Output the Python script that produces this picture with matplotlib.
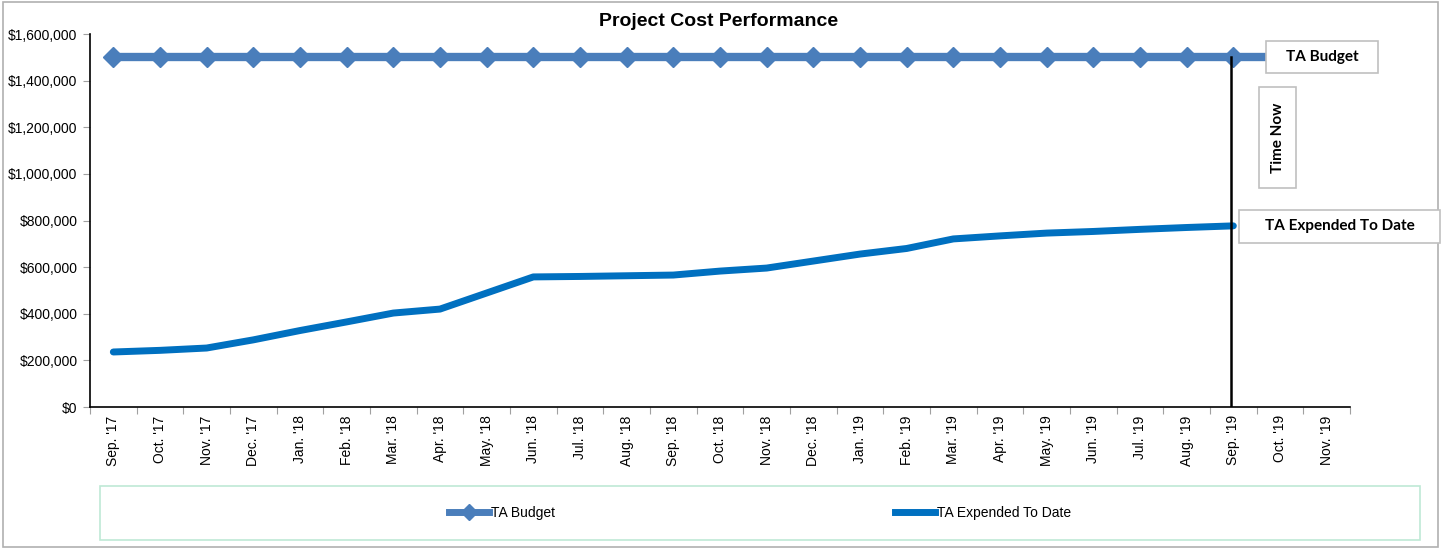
import matplotlib
matplotlib.use("Agg")
import matplotlib.pyplot as plt
from matplotlib.patches import Rectangle
from matplotlib.lines import Line2D
from matplotlib.ticker import FuncFormatter, FixedLocator

plt.rcParams['font.family'] = ['Liberation Sans', 'DejaVu Sans']

months = ["Sep. '17", "Oct. '17", "Nov. '17", "Dec. '17", "Jan. '18", "Feb. '18", "Mar. '18",
          "Apr. '18", "May. '18", "Jun. '18", "Jul. '18", "Aug. '18", "Sep. '18", "Oct. '18",
          "Nov. '18", "Dec. '18", "Jan. '19", "Feb. '19", "Mar. '19", "Apr. '19", "May. '19",
          "Jun. '19", "Jul. '19", "Aug. '19", "Sep. '19", "Oct. '19", "Nov. '19"]

ta_budget = [1500000] * 26
ta_expended = [236000, 243000, 253000, 288000, 328000, 365000, 403000, 420000, 489000,
               558000, 560000, 563000, 566000, 583000, 596000, 626000, 656000, 680000,
               721000, 734000, 746000, 753000, 762000, 770000, 777000]
time_now_index = 24

W, H = 1445, 548
fig = plt.figure(figsize=(W / 100, H / 100), dpi=100)
fig.patch.set_facecolor('white')

def fx(px):
    return px / W

def fy(py):
    return 1 - py / H

ax = fig.add_axes([fx(90), fy(407), fx(1350) - fx(90), fy(34) - fy(407)])

x_exp = list(range(len(ta_expended)))
x_bud = list(range(len(ta_budget)))

ax.plot(x_exp, ta_expended, color='#0070c0', lw=5, solid_capstyle='round',
        solid_joinstyle='round', zorder=3)
ax.plot(x_bud, ta_budget, color='#4a7ebb', lw=6, marker='D', markersize=10.5,
        markeredgecolor='#4a7ebb', markerfacecolor='#4a7ebb', zorder=3)

ax.plot([time_now_index - 0.05, time_now_index - 0.05], [0, ta_budget[0]], color='black',
        lw=1.8, zorder=4)

ax.set_xlim(-0.5, len(months) - 0.5)
ax.set_ylim(0, 1600000)
ax.set_yticks(range(0, 1600001, 200000))
ax.yaxis.set_major_formatter(FuncFormatter(lambda v, p: '${:,.0f}'.format(v)))
ax.set_xticks(range(len(months)))
ax.set_xticklabels(months, rotation=90, fontsize=10)
ax.xaxis.set_minor_locator(FixedLocator([i - 0.5 for i in range(len(months) + 1)]))
ax.tick_params(axis='x', which='major', length=0, pad=6)
ax.tick_params(axis='x', which='minor', length=5, color='#a0a0a0', width=0.8)
ax.tick_params(axis='y', length=5, color='#a0a0a0', width=0.8, labelsize=10, pad=4)
for s in ['top', 'right']:
    ax.spines[s].set_visible(False)
ax.spines['left'].set_linewidth(1.2)
ax.spines['bottom'].set_linewidth(1.2)

fig.text(fx(719), fy(21), 'Project Cost Performance', ha='center', va='center',
         fontsize=14, fontweight='bold')

# outer chart border
fig.patches.append(Rectangle((fx(3), fy(547)), fx(1438) - fx(3), fy(2) - fy(547),
                             transform=fig.transFigure, fill=False, edgecolor='#b0b0b0',
                             lw=1.2, zorder=0))

# annotation boxes
def box(x0, y0, x1, y1, text, rot=0):
    fig.patches.append(Rectangle((fx(x0), fy(y1)), fx(x1) - fx(x0), fy(y0) - fy(y1),
                                 transform=fig.transFigure, facecolor='white',
                                 edgecolor='#c0c0c0', lw=1.2, zorder=10))
    fig.text(fx((x0 + x1) / 2), fy((y0 + y1) / 2), text, ha='center', va='center',
             rotation=rot, fontsize=11, fontweight='bold', family=['Lato', 'DejaVu Sans'],
             zorder=11)

box(1266, 41, 1378, 73, 'TA Budget')
box(1259, 87, 1296, 188, 'Time Now', rot=90)
box(1239, 210, 1440, 243, 'TA Expended To Date')

# legend frame
fig.patches.append(Rectangle((fx(100), fy(540)), fx(1420) - fx(100), fy(486) - fy(540),
                             transform=fig.transFigure, fill=False, edgecolor='#bfe9d5',
                             lw=1.2, zorder=1))

h1 = Line2D([], [], color='#4a7ebb', lw=5, marker='D', markersize=8)
h2 = Line2D([], [], color='#0070c0', lw=5)
fig.legend([h1, h2], ['TA Budget', 'TA Expended To Date'], ncol=2, loc='center',
           bbox_to_anchor=(fx(760), fy(513)), frameon=False, fontsize=10,
           handlelength=2.9, handletextpad=0.1, columnspacing=24.5)

fig.savefig('out.png', dpi=100, facecolor='white')
